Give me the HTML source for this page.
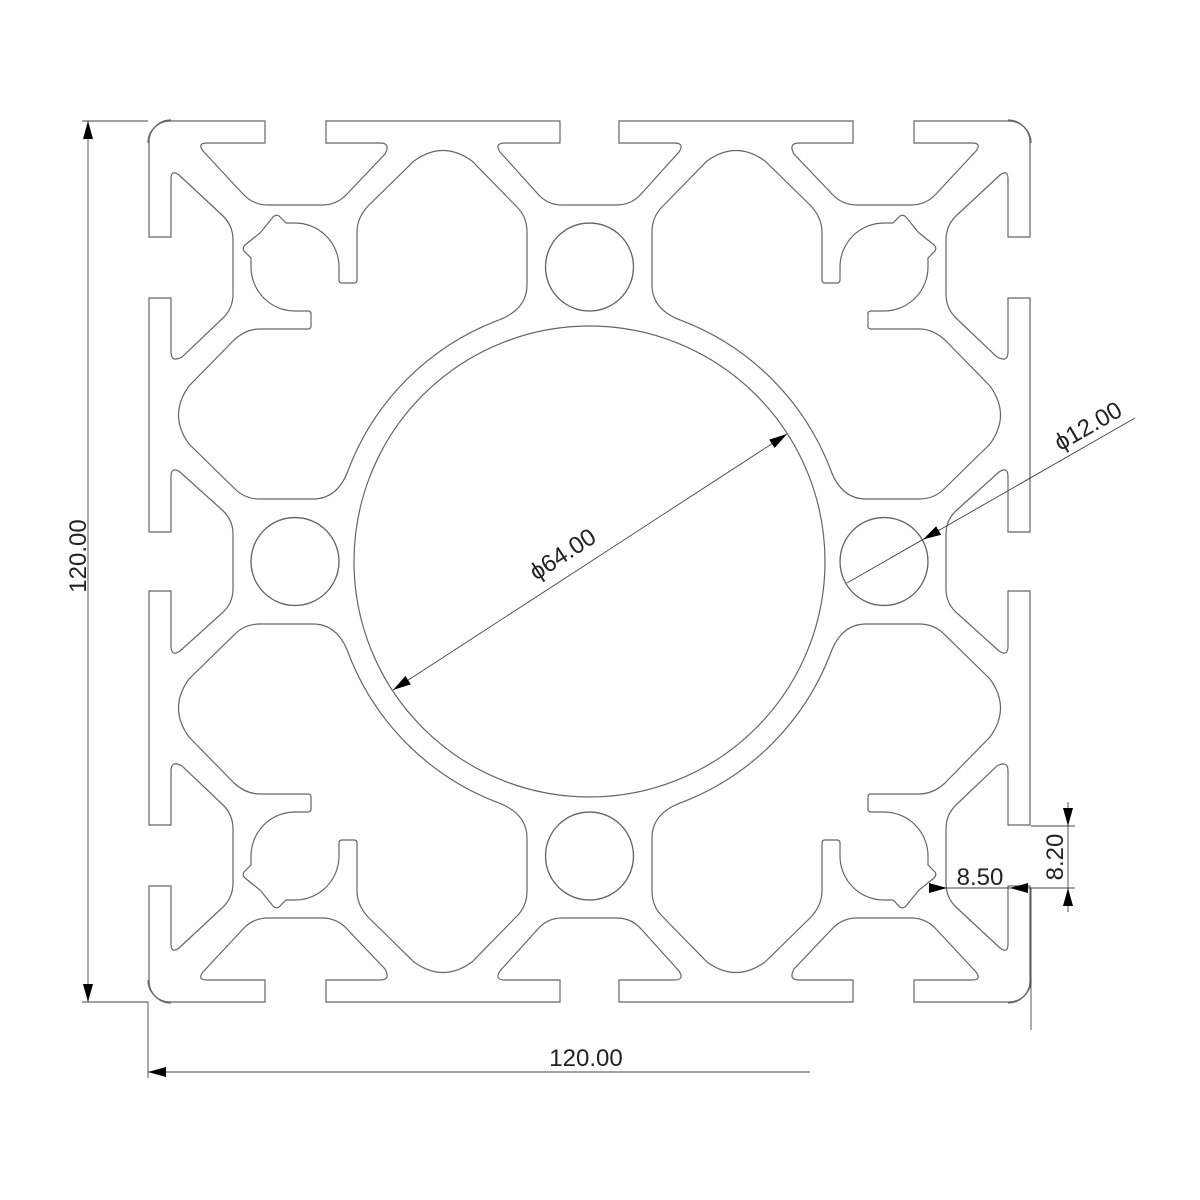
<!DOCTYPE html>
<html><head><meta charset="utf-8"><style>
html,body{margin:0;padding:0;background:#fff;}
svg{display:block;}
text{font-family:"Liberation Sans","DejaVu Sans",sans-serif;fill:#222;}
</style></head><body>
<svg width="1200" height="1200" viewBox="0 0 1200 1200" xmlns="http://www.w3.org/2000/svg">
<defs>
<g id="G" fill="none" stroke="#666" stroke-width="1.2">
<path d="M148,143 A22,22 0 0 1 170,121 H265 V143 H207 Q197,143 203,151 L243,194 Q253,205 268,205 H322 Q337,205 347,194 L385,154 Q391,143 380,143 H326 V121 H560 V143 H505 Q494,143 500,152 L537,193 Q547,205 562,205 H589.5"/>
<path d="M407.1,379.1 A258,258 0 0 1 497,320.7 Q527,310 527,285 V232 Q527,217 517,207 L472,161 Q443,140 414,161 L368,206 Q357,218 357,232 V280 Q357,283 354,283 H342 Q339,283 339,280 V267 A44,44 0 0 0 295,223 L286,223 L279,216 Q276,214 273,217 L260.5,232.5"/>
<circle cx="589.5" cy="267" r="44"/>
</g>
<g id="Q">
<use href="#G"/>
<use href="#G" transform="matrix(0,1,1,0,28,-28)"/>
</g>
</defs>
<use href="#Q"/>
<use href="#Q" transform="matrix(-1,0,0,1,1179,0)"/>
<use href="#Q" transform="matrix(1,0,0,-1,0,1123)"/>
<use href="#Q" transform="matrix(-1,0,0,-1,1179,1123)"/>
<circle cx="589.5" cy="561.5" r="235.5" fill="none" stroke="#666" stroke-width="1.2"/>

<g stroke="#444" stroke-width="0.9" fill="none">
<line x1="82" y1="121" x2="148" y2="121"/>
<line x1="82" y1="1002" x2="148" y2="1002"/>
<line x1="88" y1="121" x2="88" y2="1002"/>
<line x1="148" y1="1002" x2="148" y2="1078"/>
<line x1="148" y1="1072" x2="810" y2="1072"/>
<line x1="1031" y1="888" x2="1031" y2="1030"/>
<line x1="930" y1="888" x2="1075" y2="888"/>
<line x1="1031" y1="826" x2="1075" y2="826"/>
<line x1="1068" y1="802" x2="1068" y2="912"/>
<line x1="393" y1="690" x2="787" y2="434"/>
<line x1="847" y1="583" x2="1135" y2="418"/>
</g>
<g fill="#000">
<polygon points="88,121 83,139 93,139"/>
<polygon points="88,1002 83,984 93,984"/>
<polygon points="148,1072 166,1067 166,1077"/>
<polygon points="947,888 929,883 929,893"/>
<polygon points="1010,888 1028,883 1028,893"/>
<polygon points="1068,826 1063,808 1073,808"/>
<polygon points="1068,888 1063,906 1073,906"/>
<polygon points="393,690 410.8,684.4 405.4,676"/>
<polygon points="787,434 774.6,448 769.2,439.6"/>
<polygon points="923,539.5 941.1,534.8 936.1,526.2"/>
</g>
<g font-size="24">
<text x="78" y="556" text-anchor="middle" transform="rotate(-90 78 556)" dy="8">120.00</text>
<text x="586" y="1066" text-anchor="middle">120.00</text>
<text x="980" y="885" text-anchor="middle">8.50</text>
<text x="1063" y="857" text-anchor="middle" transform="rotate(-90 1063 857)">8.20</text>
<text x="567" y="561" text-anchor="middle" transform="rotate(-33 567 561)">ϕ64.00</text>
<text x="1092" y="433" text-anchor="middle" transform="rotate(-29.8 1092 433)">ϕ12.00</text>
</g>
</svg>
</body></html>
